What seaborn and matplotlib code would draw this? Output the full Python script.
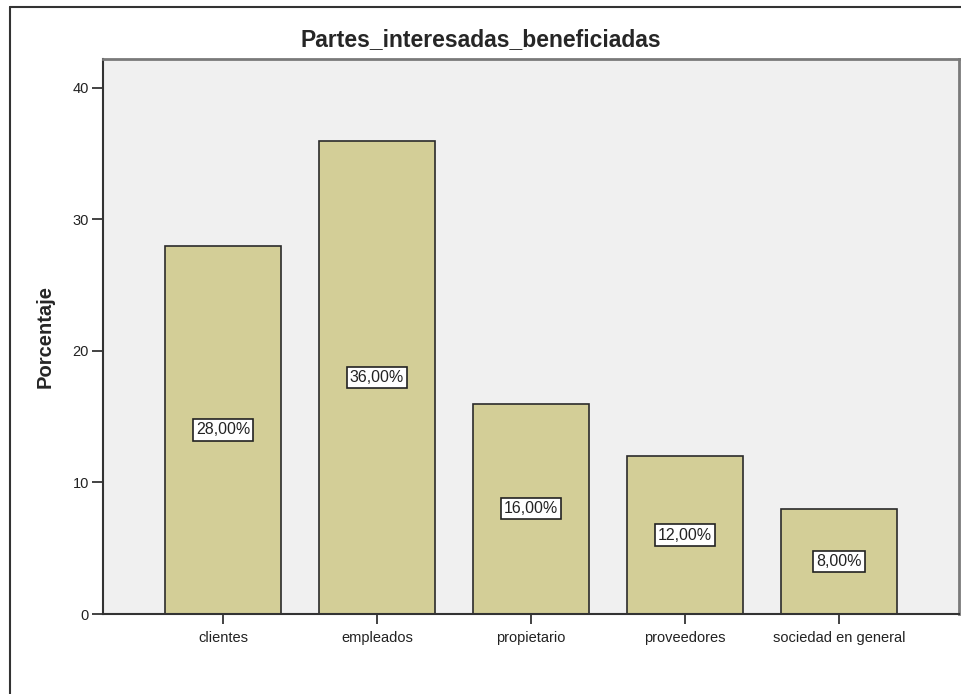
import matplotlib
matplotlib.use("Agg")
import matplotlib.pyplot as plt
from matplotlib.lines import Line2D
import seaborn as sns
import pandas as pd

categories = ["clientes", "empleados", "propietario", "proveedores", "sociedad en general"]
values = [28.0, 36.0, 16.0, 12.0, 8.0]
labels = ["28,00%", "36,00%", "16,00%", "12,00%", "8,00%"]
yticks = [0, 10, 20, 30, 40]
title = "Partes_interesadas_beneficiadas"
ylabel = "Porcentaje"

sns.set_style("white")
plt.rcParams['font.family'] = ['Liberation Sans', 'DejaVu Sans']

df = pd.DataFrame({"cat": categories, "val": values})

fig = plt.figure(figsize=(9.62, 6.94), dpi=100)
ax = fig.add_axes([103/962, 80/694, (959-103)/962, (614-59)/694])
ax.set_facecolor("#F0F0F0")

sns.barplot(data=df, x="cat", y="val", color="#D3CE97", edgecolor="#2b2b2b",
            linewidth=1.2, width=0.753, saturation=1, ax=ax)

ax.set_xlim(-0.779, 4.779)
ax.set_ylim(0, 42.2)
ax.set_yticks(yticks)
ax.set_yticklabels([str(t) for t in yticks], fontsize=10.5, color="#222222")
ax.tick_params(axis="y", direction="out", length=8, width=1.2, color="#222222", pad=2, left=True)
ax.tick_params(axis="x", direction="out", length=7, width=1.2, color="#222222", pad=5, bottom=True,
               labelsize=10.5, labelcolor="#222222")
ax.set_xlabel("")
ax.set_ylabel(ylabel, fontsize=14.5, fontweight="bold", labelpad=13)

for side in ["left", "bottom"]:
    ax.spines[side].set_color("#333333")
    ax.spines[side].set_linewidth(1.5)
for side in ["top", "right"]:
    ax.spines[side].set_color("#7a7a7a")
    ax.spines[side].set_linewidth(2)

for i, (v, lab) in enumerate(zip(values, labels)):
    ax.text(i, v / 2, lab, ha="center", va="center", fontsize=11.5, color="#222222",
            bbox=dict(boxstyle="square,pad=0.2", facecolor="white", edgecolor="#222222", linewidth=1.2))

fig.text(0.5, 1 - 40/694, title, ha="center", va="center", fontsize=16.5, fontweight="bold")

# outer frame
fig.add_artist(Line2D([10/962, 10/962], [0, 1 - 7/694], transform=fig.transFigure, color="#333333", linewidth=1.5))
fig.add_artist(Line2D([10/962, 1], [1 - 7/694, 1 - 7/694], transform=fig.transFigure, color="#333333", linewidth=1.5))

fig.savefig("out.png", dpi=100)
